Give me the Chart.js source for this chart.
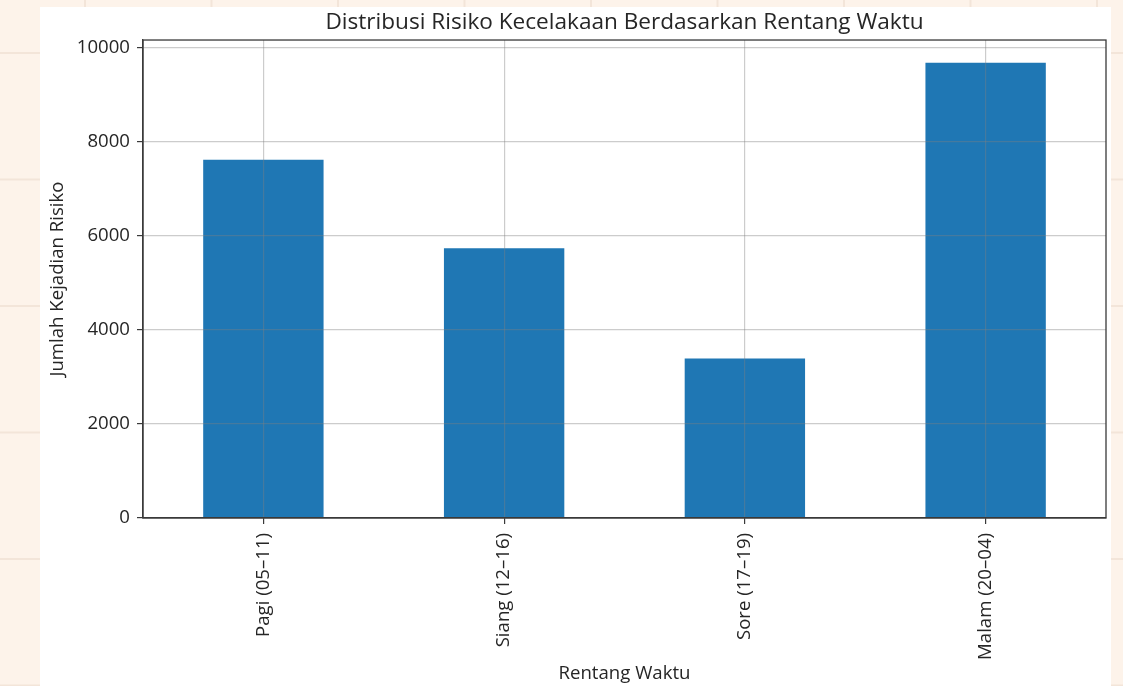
<!DOCTYPE html>
<html>
<head>
<meta charset="utf-8">
<script src="https://cdn.jsdelivr.net/npm/chart.js@4.4.1/dist/chart.umd.min.js"></script>
<style>
    html, body {
        margin: 0;
        padding: 0;
        width: 1123px;
        height: 686px;
        overflow: hidden;
    }
    body {
        background-color: #fdf3ea;
        background-image:
            linear-gradient(to right, #f3e5d9 2px, transparent 2px),
            linear-gradient(to bottom, #f3e5d9 2px, transparent 2px);
        background-size: 126.5px 126.5px;
        background-position: 84px 52px;
    }
    #panel {
        position: absolute;
        left: 40px;
        top: 7px;
        width: 1071px;
        height: 679px;
        background: #fff;
    }
</style>
</head>
<body>
<div id="panel"><canvas id="risk-chart" width="1071" height="679"></canvas></div>
<script>
const categories = ['Pagi (05–11)', 'Siang (12–16)', 'Sore (17–19)', 'Malam (20–04)'];
const riskCounts = [7616, 5732, 3391, 9675];
const yTicks = [0, 2000, 4000, 6000, 8000, 10000];

const frameColor = '#3a3a3a';
const textColor = '#262626';
const gridColor = 'rgba(128,128,128,0.40)';
const labelFont = { family: 'Open Sans', size: 18.6 };

// outline round the plot area (matplotlib style box)
const framePlugin = {
    id: 'frame',
    afterDraw(c) {
        const a = c.chartArea;
        const ctx = c.ctx;
        ctx.save();
        ctx.strokeStyle = frameColor;
        ctx.lineWidth = 1.3;
        ctx.strokeRect(a.left, a.top, a.right - a.left, a.bottom - a.top);
        ctx.restore();
    }
};

const ctx = document.getElementById('risk-chart').getContext('2d');
const chart = new Chart(ctx, {
    type: 'bar',
    data: {
        labels: categories,
        datasets: [{
            data: riskCounts,
            backgroundColor: '#1f77b4',
            borderWidth: 0,
            categoryPercentage: 1,
            barPercentage: 0.5
        }]
    },
    options: {
        responsive: false,
        animation: false,
        devicePixelRatio: 1,
        layout: { padding: { left: 0, right: 5, top: 0, bottom: 0 } },
        plugins: {
            legend: { display: false },
            tooltip: { enabled: false },
            title: {
                display: true,
                fullSize: false,
                text: 'Distribusi Risiko Kecelakaan Berdasarkan Rentang Waktu',
                color: textColor,
                font: { family: 'Open Sans', size: 22.6, weight: 'normal' },
                padding: { top: 2.4, bottom: 3.5 }
            }
        },
        scales: {
            x: {
                offset: true,
                grid: {
                    z: 1,
                    offset: false,
                    color: gridColor,
                    lineWidth: 1.2,
                    tickColor: frameColor,
                    tickLength: 6,
                    tickWidth: 1.2
                },
                border: { color: frameColor, width: 1.3, z: 2 },
                ticks: {
                    color: textColor,
                    font: labelFont,
                    minRotation: 90,
                    maxRotation: 90,
                    padding: 9,
                    autoSkip: false
                },
                title: {
                    display: true,
                    text: 'Rentang Waktu',
                    color: textColor,
                    font: labelFont,
                    padding: { top: 0, bottom: 1 }
                },
                afterFit(scale) { scale.height = 168; }
            },
            y: {
                min: 0,
                max: 10159,
                afterBuildTicks(scale) {
                    scale.ticks = yTicks.map(v => ({ value: v }));
                },
                grid: {
                    z: 1,
                    color: gridColor,
                    lineWidth: 1.2,
                    tickColor: frameColor,
                    tickLength: 6,
                    tickWidth: 1.2
                },
                border: { color: frameColor, width: 1.3, z: 2 },
                ticks: {
                    color: textColor,
                    font: labelFont,
                    padding: 7,
                    callback: v => String(v)
                },
                title: {
                    display: true,
                    text: 'Jumlah Kejadian Risiko',
                    color: textColor,
                    font: labelFont,
                    padding: { top: 7, bottom: 0 }
                },
                afterFit(scale) { scale.width = 103; }
            }
        }
    },
    plugins: [framePlugin]
});
</script>
</body>
</html>
